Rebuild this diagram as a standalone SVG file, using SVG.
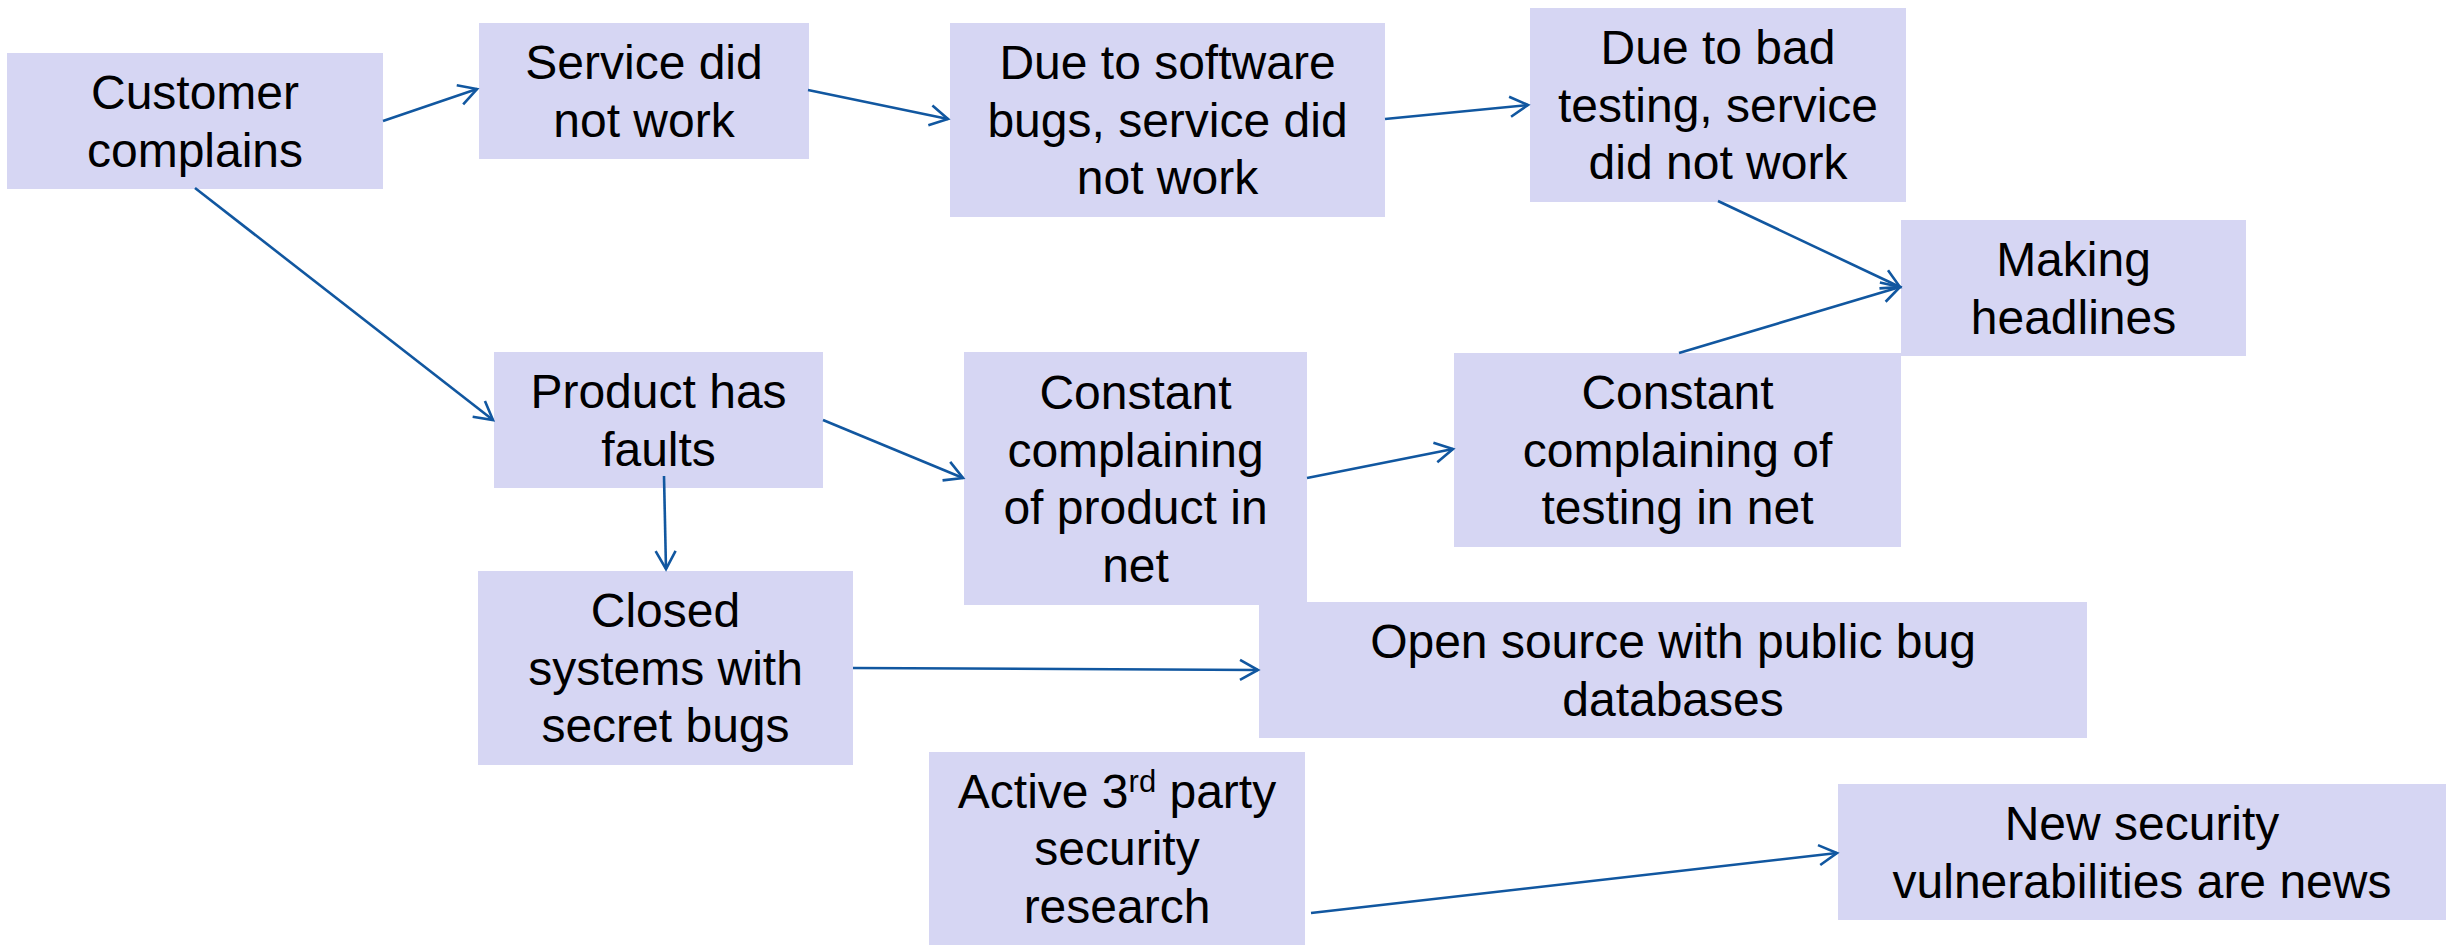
<svg xmlns="http://www.w3.org/2000/svg" width="2446" height="945" viewBox="0 0 2446 945">
<style>
.box{fill:#D6D6F3;}
.t{font-family:"Liberation Sans",Arial,sans-serif;font-size:48px;fill:#000;text-anchor:middle;}
.c{stroke:#1157A0;stroke-width:2.6;fill:none;marker-end:url(#arr);}
</style>
<defs>
<marker id="arr" markerUnits="userSpaceOnUse" viewBox="0 0 24 24" markerWidth="24" markerHeight="24" refX="20" refY="12" orient="auto">
<path d="M2,2 L20,12 L2,22" fill="none" stroke="#1157A0" stroke-width="2.6"/>
</marker>
</defs>
<rect width="2446" height="945" fill="#fff"/>
<g id="customer"><rect class="box" x="7" y="53" width="376" height="136"/><text class="t" x="195" y="109">Customer</text><text class="t" x="195" y="166.6">complains</text></g>
<g id="service"><rect class="box" x="479" y="23" width="330" height="136"/><text class="t" x="644" y="79">Service did</text><text class="t" x="644" y="136.6">not work</text></g>
<g id="software"><rect class="box" x="950" y="23" width="435" height="194"/><text class="t" x="1167.5" y="79.2">Due to software</text><text class="t" x="1167.5" y="136.8">bugs, service did</text><text class="t" x="1167.5" y="194.4">not work</text></g>
<g id="badtesting"><rect class="box" x="1530" y="8" width="376" height="194"/><text class="t" x="1718" y="64.2">Due to bad</text><text class="t" x="1718" y="121.8">testing, service</text><text class="t" x="1718" y="179.4">did not work</text></g>
<g id="headlines"><rect class="box" x="1901" y="220" width="345" height="136"/><text class="t" x="2073.5" y="276">Making</text><text class="t" x="2073.5" y="333.6">headlines</text></g>
<g id="product"><rect class="box" x="494" y="352" width="329" height="136"/><text class="t" x="658.5" y="408">Product has</text><text class="t" x="658.5" y="465.6">faults</text></g>
<g id="constantproduct"><rect class="box" x="964" y="352" width="343" height="253"/><text class="t" x="1135.5" y="408.9">Constant</text><text class="t" x="1135.5" y="466.5">complaining</text><text class="t" x="1135.5" y="524.1">of product in</text><text class="t" x="1135.5" y="581.7">net</text></g>
<g id="constanttesting"><rect class="box" x="1454" y="353" width="447" height="194"/><text class="t" x="1677.5" y="409.2">Constant</text><text class="t" x="1677.5" y="466.8">complaining of</text><text class="t" x="1677.5" y="524.4">testing in net</text></g>
<g id="closed"><rect class="box" x="478" y="571" width="375" height="194"/><text class="t" x="665.5" y="627.2">Closed</text><text class="t" x="665.5" y="684.8">systems with</text><text class="t" x="665.5" y="742.4">secret bugs</text></g>
<g id="opensource"><rect class="box" x="1259" y="602" width="828" height="136"/><text class="t" x="1673" y="658">Open source with public bug</text><text class="t" x="1673" y="715.6">databases</text></g>
<g id="active"><rect class="box" x="929" y="752" width="376" height="193"/><text class="t" x="1117" y="807.7">Active 3<tspan font-size="31" dy="-16">rd</tspan><tspan dy="16"> party</tspan></text><text class="t" x="1117" y="865.3">security</text><text class="t" x="1117" y="922.9">research</text></g>
<g id="newsecurity"><rect class="box" x="1838" y="784" width="608" height="136"/><text class="t" x="2142" y="840">New security</text><text class="t" x="2142" y="897.6">vulnerabilities are news</text></g>
<g id="connectors">
<line class="c" x1="383" y1="121" x2="477" y2="89" stroke-width="3.2"/>
<line class="c" x1="808" y1="90" x2="948" y2="119"/>
<line class="c" x1="1385" y1="119" x2="1528" y2="105"/>
<line class="c" x1="1718" y1="201" x2="1900" y2="287"/>
<line class="c" x1="1679" y1="353" x2="1900" y2="287"/>
<line class="c" x1="195" y1="188" x2="493" y2="420"/>
<line class="c" x1="823" y1="420" x2="963" y2="478"/>
<line class="c" x1="1307" y1="478" x2="1453" y2="449"/>
<line class="c" x1="664" y1="476" x2="666" y2="569"/>
<line class="c" x1="853" y1="668" x2="1258" y2="670"/>
<line class="c" x1="1311" y1="913" x2="1837" y2="853"/>
</g>
</svg>
